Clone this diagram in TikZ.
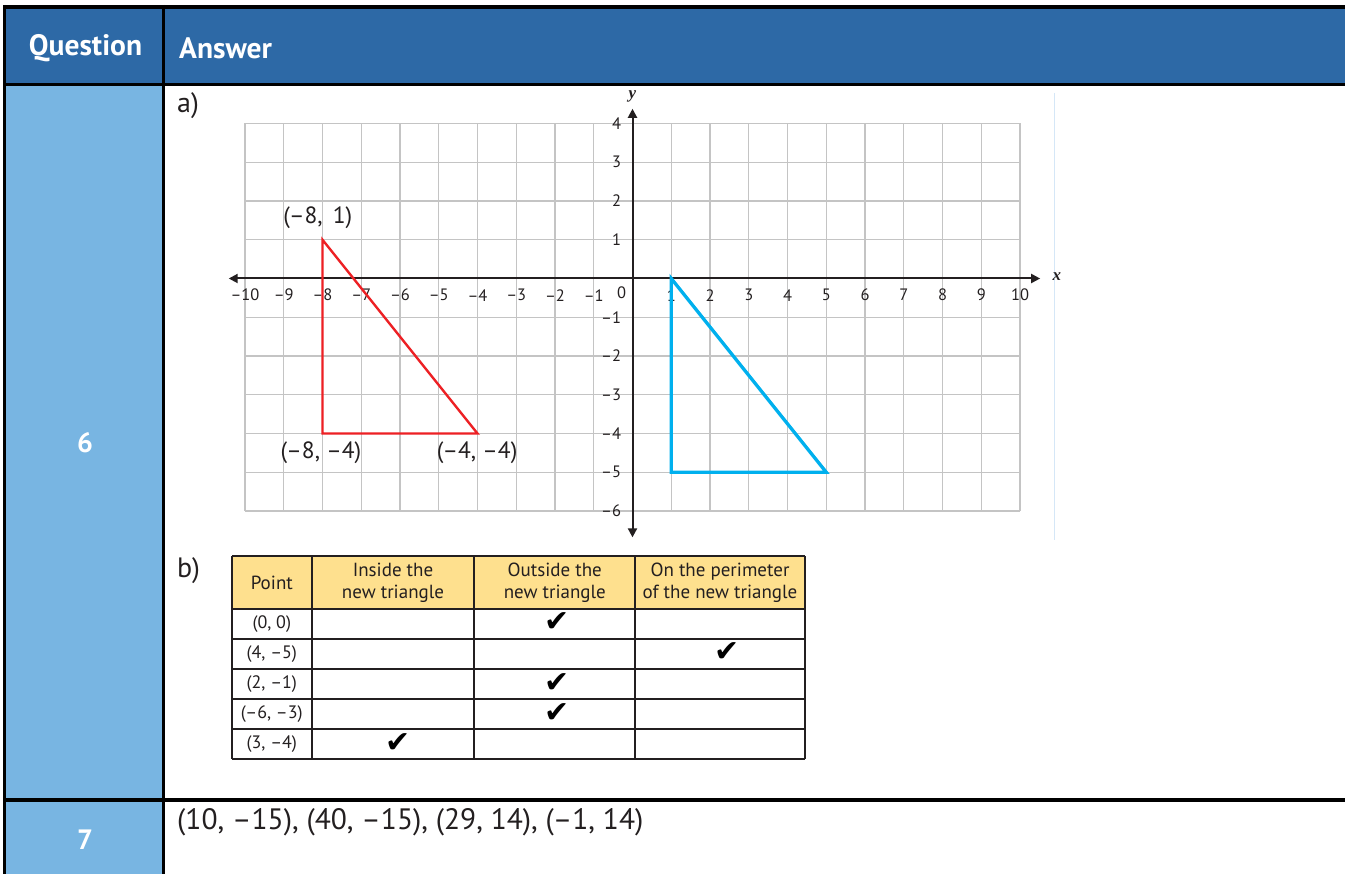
\documentclass[tikz,border=0pt]{standalone}
\usepackage{fontspec}
\setmainfont{PT Sans}
\newfontfamily\axfont{Liberation Serif}
\newfontfamily\symfont{DejaVu Sans}
\usetikzlibrary{arrows.meta}
\definecolor{hdrblue}{HTML}{2D69A6}
\definecolor{qblue}{HTML}{78B5E2}
\definecolor{tblhead}{HTML}{FEE08E}
\definecolor{gridgray}{HTML}{C4C4C4}
\definecolor{redtri}{HTML}{ED2024}
\definecolor{bluetri}{HTML}{00B0EE}
\definecolor{axcol}{HTML}{231F20}
\definecolor{faint}{HTML}{D5E7F7}
\tikzset{
  frameline/.style={black, line width=3.5pt},
  hdrtext/.style={text=white, inner sep=0pt, font=\bfseries\fontsize{29.5}{31}\selectfont},
  qtext/.style={text=white, inner sep=0pt, font=\bfseries\fontsize{28}{30}\selectfont},
  parttext/.style={text=axcol, inner sep=0pt, anchor=west, font=\fontsize{28}{30}\selectfont},
  gridline/.style={gridgray, line width=1.2pt},
  axisline/.style={axcol, line width=2pt, {Triangle[width=9pt,length=9pt]}-{Triangle[width=9pt,length=9pt]}},
  ticklbl/.style={text=axcol, inner sep=0pt, font=\fontsize{16.5}{17}\selectfont},
  ptlbl/.style={text=axcol, inner sep=0pt, font=\fontsize{23.5}{25}\selectfont},
  axname/.style={text=axcol, inner sep=0pt, font=\axfont\itshape\bfseries\fontsize{17}{17}\selectfont},
  tblline/.style={axcol, line width=1.7pt},
  tblhd/.style={text=axcol, inner sep=0pt, align=center, font=\fontsize{19}{22}\selectfont},
  tblrow/.style={text=axcol, inner sep=0pt, font=\fontsize{18}{18}\selectfont},
  tick/.style={text=black, inner sep=0pt, font=\symfont\fontsize{30}{30}\selectfont},
}
\begin{document}
\begin{tikzpicture}[x=1pt,y=-1pt]
\useasboundingbox (0,0) rectangle (1345,874);
\fill[white] (0,0) rectangle (1345,874);
% cells
\fill[hdrblue] (4,7) rectangle (1345,84);
\fill[qblue] (4,84) rectangle (163,874);
% frame lines
\draw[black, line width=4pt] (3,7) -- (1345,7);
\draw[frameline] (3,84.3) -- (1345,84.3);
\draw[frameline] (3,800) -- (1345,800);
\draw[black, line width=3pt] (4.5,5) -- (4.5,874);
\draw[frameline] (163.3,5) -- (163.3,874);
% header and question texts
\node[hdrtext] (question) at (85.5,48) {Question};
\node[hdrtext, anchor=west] (answer) at (179,48) {Answer};
\node[qtext] (q6) at (85,443) {6};
\node[qtext] (q7) at (85,840) {7};
\node[parttext] (pa) at (177,106) {a)};
\node[parttext] (pb) at (177,571) {b)};
% faint border of the graph picture
\draw[faint, line width=1pt] (1054,93) -- (1054,540);
% graph
\begin{scope}[shift={(632.5,278.5)}, x=38.75pt, y=38.75pt]
  \foreach \i in {-10,...,10} \draw[gridline] (\i,-6) -- (\i,4);
  \foreach \j in {-6,...,4} \draw[gridline] (-10,\j) -- (10,\j);
  \draw[axisline] (-10.42,0) -- (10.52,0);
  \draw[axisline] (0,-6.68) -- (0,4.38);
  \node[axname] (xname) at (10.95,0.04) {x};
  \node[axname] (yname) at (0,4.7) {y};
  \foreach \i in {-10,...,-1} {
    \pgfmathtruncatemacro\ab{-\i}
    \node[ticklbl] (xt\ab m) at (\i,-0.43) {–\ab};
  }
  \foreach \i in {1,...,10} \node[ticklbl] (xt\i) at (\i,-0.43) {\i};
  \node[ticklbl] (zero) at (-0.28,-0.38) {0};
  \foreach \j in {1,...,4} \node[ticklbl, anchor=east] (yt\j) at (-0.29,\j) {\j};
  \foreach \j in {-6,...,-1} {
    \pgfmathtruncatemacro\ab{-\j}
    \node[ticklbl, anchor=east] (yt\ab m) at (-0.29,\j) {–\ab};
  }
  % triangles
  \draw[redtri, line width=2.4pt] (-8,1) -- (-8,-4) -- (-4,-4) -- cycle;
  \draw[bluetri, line width=3.3pt] (1,0) -- (1,-5) -- (5,-5) -- cycle;
  \node[ptlbl] (pA) at (-8.12,1.56) {(–8,\, 1)};
  \node[ptlbl] (pB) at (-8.04,-4.5) {(–8, –4)};
  \node[ptlbl] (pC) at (-4.01,-4.5) {(–4, –4)};
\end{scope}
% table
\fill[tblhead] (232,556) rectangle (804.7,609);
\foreach \r in {556,609,639,669,699,729,759} \draw[tblline] (232,\r) -- (804.7,\r);
\foreach \c in {232,311.7,474.3,635.3,804.7} \draw[tblline] (\c,556) -- (\c,759);
\node[tblhd] (hp) at (271.8,582.5) {Point};
\node[tblhd] (hi) at (393,582.5) {Inside the\\new triangle};
\node[tblhd] (ho) at (554.8,582.5) {Outside the\\new triangle};
\node[tblhd] (hper) at (720,582.5) {On the perimeter\\of the new triangle};
\node[tblrow] (r1) at (271.8,624) {(0, 0)};
\node[tblrow] (r2) at (271.8,654) {(4, –5)};
\node[tblrow] (r3) at (271.8,684) {(2, –1)};
\node[tblrow] (r4) at (271.8,714) {(–6, –3)};
\node[tblrow] (r5) at (271.8,744) {(3, –4)};
\node[tick] (c1) at (557,622) {✔};
\node[tick] (c2) at (727,652) {✔};
\node[tick] (c3) at (557,683) {✔};
\node[tick] (c4) at (557,713) {✔};
\node[tick] (c5) at (398,743) {✔};
% question 7 answer
\node[parttext, font=\fontsize{29.5}{31}\selectfont] (ans7) at (177,822) {(10, –15), (40, –15), (29, 14), (–1, 14)};
\end{tikzpicture}
\end{document}
